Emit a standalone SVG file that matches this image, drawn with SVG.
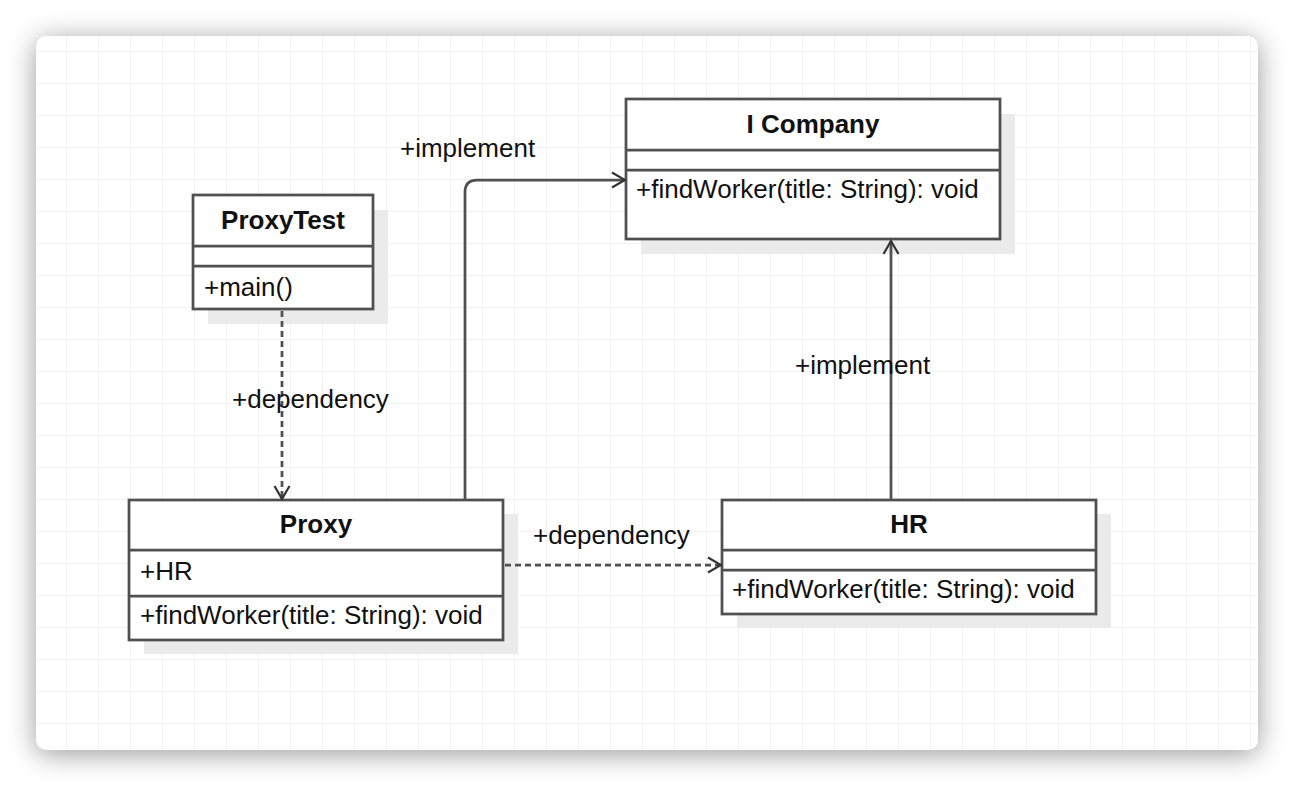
<svg xmlns="http://www.w3.org/2000/svg" width="1294" height="786" viewBox="0 0 1294 786">
<defs>
<filter id="cardShadow" x="-10%" y="-10%" width="120%" height="120%">
<feGaussianBlur stdDeviation="14"/>
</filter>
<pattern id="grid" x="3" y="20" width="32" height="32" patternUnits="userSpaceOnUse">
<path d="M 32 0 L 32 32 M 0 32 L 32 32" fill="none" stroke="#f1f1f1" stroke-width="2"/>
</pattern>
<marker id="open" viewBox="0 0 18 18" refX="16" refY="9" markerWidth="18" markerHeight="18" markerUnits="userSpaceOnUse" orient="auto">
<path d="M 3 1.5 L 16 9 L 3 16.5" fill="none" stroke="#333333" stroke-width="2.2"/>
</marker>
<style>
.box{fill:#ffffff;stroke:#505050;stroke-width:2.75}
.shadow{fill:#ebebeb}
.div{stroke:#505050;stroke-width:2.75}
.title{font-family:"Liberation Sans",Arial,sans-serif;font-size:26px;font-weight:bold;fill:#111;text-anchor:middle}
.attr{font-family:"Liberation Sans",Arial,sans-serif;font-size:26px;fill:#111}
.lbl{font-family:"Liberation Sans",Arial,sans-serif;font-size:26px;fill:#111}
.line{fill:none;stroke:#505050;stroke-width:2.75}
.dash{fill:none;stroke:#505050;stroke-width:2.75;stroke-dasharray:6 4}
</style>
</defs>
<rect width="1294" height="786" fill="#ffffff"/>
<rect x="36" y="40" width="1222" height="714" rx="10" fill="#000" opacity="0.4" filter="url(#cardShadow)"/>
<rect x="36" y="36" width="1222" height="714" rx="10" fill="#ffffff"/>
<rect x="36" y="36" width="1222" height="714" rx="10" fill="url(#grid)"/>

<g id="ProxyTest">
<rect class="shadow" x="208" y="210" width="180" height="114"/>
<rect class="box" x="193" y="195" width="180" height="114"/>
<line class="div" x1="193" y1="246" x2="373" y2="246"/>
<line class="div" x1="193" y1="266" x2="373" y2="266"/>
<text class="title" x="283" y="229">ProxyTest</text>
<text class="attr" x="204" y="296">+main()</text>
</g>

<g id="ICompany">
<rect class="shadow" x="641" y="114" width="374" height="140"/>
<rect class="box" x="626" y="99" width="374" height="140"/>
<line class="div" x1="626" y1="150" x2="1000" y2="150"/>
<line class="div" x1="626" y1="170" x2="1000" y2="170"/>
<text class="title" x="813" y="133">I Company</text>
<text class="attr" x="636" y="198">+findWorker(title: String): void</text>
</g>

<g id="Proxy">
<rect class="shadow" x="144" y="514" width="374" height="140"/>
<rect class="box" x="129" y="500" width="374" height="140"/>
<line class="div" x1="129" y1="550" x2="503" y2="550"/>
<line class="div" x1="129" y1="596" x2="503" y2="596"/>
<text class="title" x="316" y="533">Proxy</text>
<text class="attr" x="140" y="580">+HR</text>
<text class="attr" x="140" y="624">+findWorker(title: String): void</text>
</g>

<g id="HR">
<rect class="shadow" x="737" y="514" width="374" height="114"/>
<rect class="box" x="722" y="500" width="374" height="114"/>
<line class="div" x1="722" y1="550" x2="1096" y2="550"/>
<line class="div" x1="722" y1="570" x2="1096" y2="570"/>
<text class="title" x="909" y="533">HR</text>
<text class="attr" x="732" y="598">+findWorker(title: String): void</text>
</g>

<g id="connectors">
<path class="dash" d="M 282 311 L 282 499" marker-end="url(#open)"/>
<path class="line" d="M 465 499 L 465 192 Q 465 180 477 180 L 625 180" marker-end="url(#open)"/>
<path class="line" d="M 891 499 L 891 241" marker-end="url(#open)"/>
<path class="dash" d="M 505 565 L 721 565" marker-end="url(#open)"/>
<text class="lbl" x="232" y="408">+dependency</text>
<text class="lbl" x="400" y="157">+implement</text>
<text class="lbl" x="795" y="374">+implement</text>
<text class="lbl" x="533" y="544">+dependency</text>
</g>
</svg>
